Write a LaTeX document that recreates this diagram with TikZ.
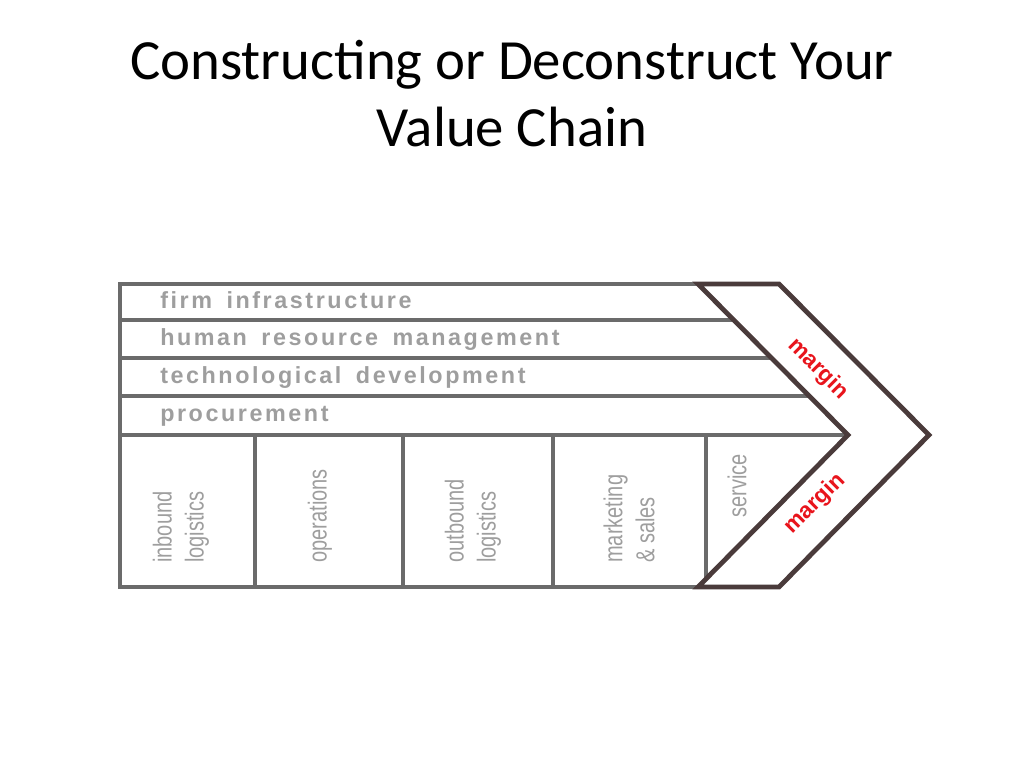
\documentclass[tikz,border=0pt]{standalone}
\usepackage{fontspec}
\setmainfont{Carlito}
\newfontfamily\hfont[LetterSpace=11,WordSpace=1.6]{Liberation Sans}
\newfontfamily\vfont[FakeStretch=0.77]{Liberation Sans}
\newfontfamily\mfont{Liberation Sans}
\definecolor{linegray}{HTML}{6B6B6B}
\definecolor{txtgray}{HTML}{9E9E9E}
\definecolor{chev}{HTML}{4A3B3B}
\definecolor{mred}{HTML}{E8141C}
\tikzset{
  grayline/.style={draw=linegray, line width=3.6pt, line join=miter},
  chevline/.style={draw=chev, line width=3.6pt, line join=miter},
  support/.style={text=txtgray, font=\hfont\bfseries\fontsize{17.5}{20}\selectfont, anchor=base west, inner sep=0pt},
  primary/.style={text=txtgray, font=\vfont\fontsize{19.5}{24}\selectfont, rotate=90, anchor=west, align=left, inner sep=0pt},
  marginlbl/.style={text=mred, font=\mfont\bfseries\fontsize{17}{17}\selectfont, inner sep=0pt},
  titletxt/.style={font=\fontsize{42.6}{50}\selectfont, anchor=base, inner sep=0pt}
}
\begin{document}
\begin{tikzpicture}[x=0.75pt,y=-0.75pt]
\useasboundingbox (0,0) rectangle (1024,768);
% title
\node[titletxt] (t1) at (512,79) {Constructing or Deconstruct Your};
\node[titletxt] (t2) at (512,146) {Value Chain};
% key points
\coordinate (tl) at (120,284);
\coordinate (bl) at (120,587);
\coordinate (it) at (698,284);
\coordinate (tip) at (848,435);
\coordinate (ib) at (698,587);
\coordinate (ot) at (779,284);
\coordinate (otip) at (929,435);
\coordinate (ob) at (779,587);
% frame
\draw[grayline] (it) -- (tl) -- (bl) -- (ib);
% support rows
\draw[grayline] (120,320) -- (733.8,320);
\draw[grayline] (120,358) -- (771.5,358);
\draw[grayline] (120,396) -- (809.2,396);
\draw[grayline] (120,435) -- (tip);
% primary dividers
\draw[grayline] (255,435) -- (255,587);
\draw[grayline] (403,435) -- (403,587);
\draw[grayline] (553,435) -- (553,587);
\draw[grayline] (706,435) -- (706,579);
% chevron
\draw[chevline] (it) -- (tip) -- (ib) -- (ob) -- (otip) -- (ot) -- cycle;
% support texts
\node[support] (fi) at (160,308) {firm infrastructure};
\node[support] (hr) at (160,345) {human resource management};
\node[support] (td) at (160,383) {technological development};
\node[support] (pr) at (160,421) {procurement};
% primary texts
\node[primary] (il) at (181,563) {inbound\\logistics};
\node[primary] (op) at (320,563) {operations};
\node[primary] (ol) at (473,563) {outbound\\logistics};
\node[primary] (ms) at (629,563) {marketing\\\& sales};
\node[primary] (sv) at (737,518) {service};
% margin labels
\node[marginlbl, rotate=-45] (m1) at (818,369) {margin};
\node[marginlbl, rotate=45] (m2) at (815,504) {margin};
\end{tikzpicture}
\end{document}
